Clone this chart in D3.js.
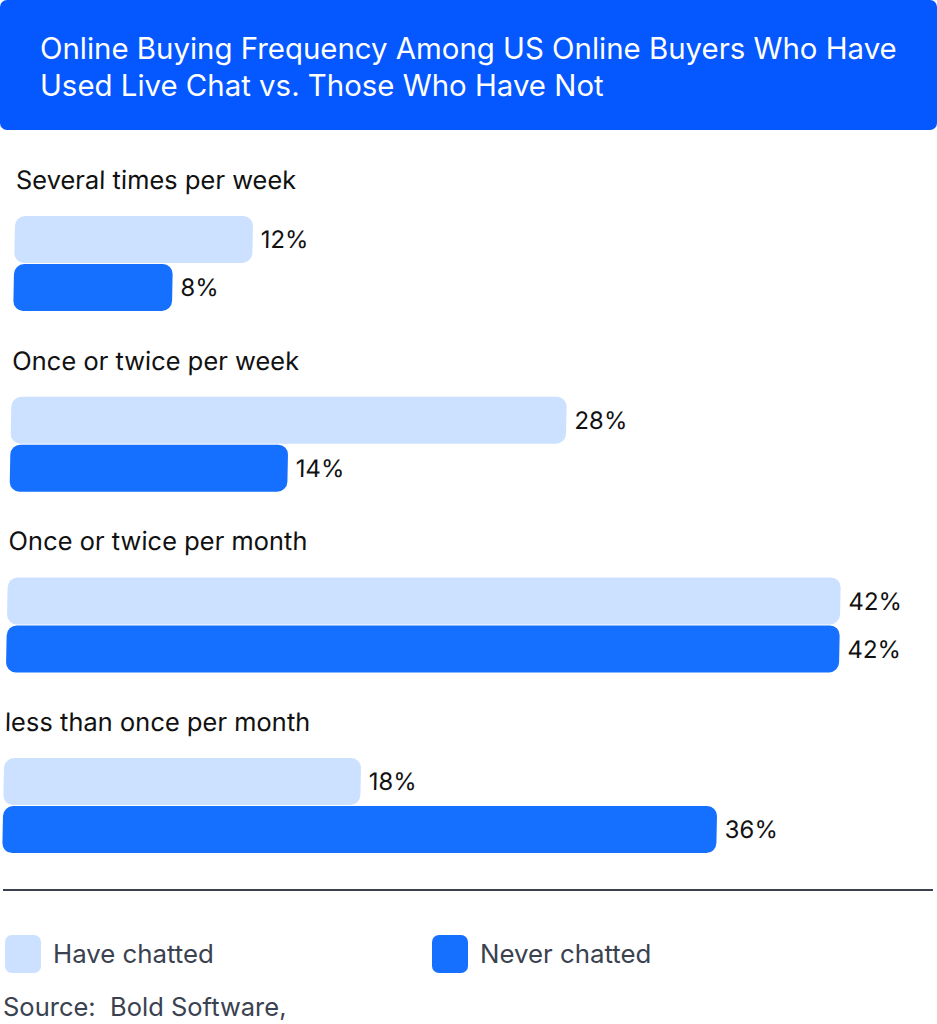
<!DOCTYPE html>
<html>
<head>
<meta charset="utf-8">
<script src="https://cdn.jsdelivr.net/npm/d3@7"></script>
<style>
  html, body { margin: 0; padding: 0; background: #fff; }
  svg { display: block; }
</style>
</head>
<body>
<div id="chart"></div>
<script>
// ---- data ----
const categories = [
  "Several times per week",
  "Once or twice per week",
  "Once or twice per month",
  "less than once per month"
];
const seriesNames = ["Have chatted", "Never chatted"];
const haveChatted = [12, 28, 42, 18];
const neverChatted = [8, 14, 42, 36];
const titleLines = [
  "Online Buying Frequency Among US Online Buyers Who Have",
  "Used Live Chat vs. Those Who Have Not"
];
const sourceText = "Source:  Bold Software,";

// ---- layout ----
const W = 937, H = 1024;
const FONT = "Inter, 'Open Sans', Roboto, sans-serif";
const colors = { "Have chatted": "#CCE0FF", "Never chatted": "#1570FF" };
const headerBlue = "#0557FF";

const svg = d3.select("#chart").append("svg")
  .attr("width", W).attr("height", H);

// header
svg.append("rect")
  .attr("x", 0).attr("y", 0).attr("width", W).attr("height", 130)
  .attr("rx", 7).attr("fill", headerBlue);

const title = svg.append("g");
titleLines.forEach((t, i) => {
  title.append("text")
    .attr("x", 40).attr("y", 59 + i * 37)
    .attr("fill", "#fff")
    .attr("font-family", FONT)
    .attr("font-size", 28)
    .text(t);
});
// fit title width to reference (first line ~857px)
const t0 = title.select("text").node();
const tw = t0.getComputedTextLength();
const tfs = 28 * 857 / tw;
title.selectAll("text").attr("font-size", tfs);

// chart group (reference is very slightly sheared)
const chart = svg.append("g")
  .attr("transform", "translate(19.5,0) skewX(-1.16)");

const y = d3.scaleBand()
  .domain(categories)
  .range([216, 216 + 4 * 180.7])
  .paddingInner(0);

const ySub = d3.scaleBand()
  .domain(seriesNames)
  .range([0, 95])
  .paddingInner(0.02);

const x = d3.scaleLinear().domain([0, 42]).range([0, 833]);

const rows = categories.map((c, i) => ({
  cat: c,
  values: [
    { s: seriesNames[0], v: haveChatted[i] },
    { s: seriesNames[1], v: neverChatted[i] }
  ]
}));

const g = chart.selectAll("g.cat").data(rows).join("g")
  .attr("class", "cat")
  .attr("transform", d => `translate(0,${y(d.cat)})`);

g.append("text")
  .attr("class", "catlabel")
  .attr("x", 0).attr("y", -27)
  .attr("font-family", FONT)
  .attr("font-size", 25.5)
  .attr("fill", "#111")
  .text(d => d.cat);

g.selectAll("rect").data(d => d.values).join("rect")
  .attr("x", 0)
  .attr("y", d => ySub(d.s))
  .attr("width", d => x(d.v))
  .attr("height", ySub.bandwidth())
  .attr("rx", 10)
  .attr("fill", d => colors[d.s]);

g.selectAll("text.val").data(d => d.values).join("text")
  .attr("class", "val")
  .attr("x", d => x(d.v) + 8)
  .attr("y", d => ySub(d.s) + ySub.bandwidth() / 2)
  .attr("dy", "0.36em")
  .attr("font-family", FONT)
  .attr("font-size", 24)
  .attr("fill", "#111")
  .text(d => d.v + "%");

// separator line
svg.append("line")
  .attr("x1", 3).attr("x2", 933).attr("y1", 890).attr("y2", 890)
  .attr("stroke", "#3a4250").attr("stroke-width", 2);

// legend
const legendX = [5, 432];
const lg = svg.selectAll("g.leg").data(seriesNames).join("g")
  .attr("class", "leg")
  .attr("transform", (d, i) => `translate(${legendX[i]},935)`);
lg.append("rect")
  .attr("width", 36).attr("height", 38).attr("rx", 7)
  .attr("fill", d => colors[d]);
lg.append("text")
  .attr("x", 48).attr("y", 19).attr("dy", "0.36em")
  .attr("font-family", FONT)
  .attr("font-size", 25.8)
  .attr("fill", "#3a4250")
  .text(d => d);

// source
svg.append("text")
  .attr("x", 3).attr("y", 1007).attr("dy", "0.36em")
  .attr("font-family", FONT)
  .attr("font-size", 25.5)
  .attr("fill", "#3a4250")
  .attr("xml:space", "preserve")
  .style("white-space", "pre")
  .text(sourceText);
</script>
</body>
</html>
